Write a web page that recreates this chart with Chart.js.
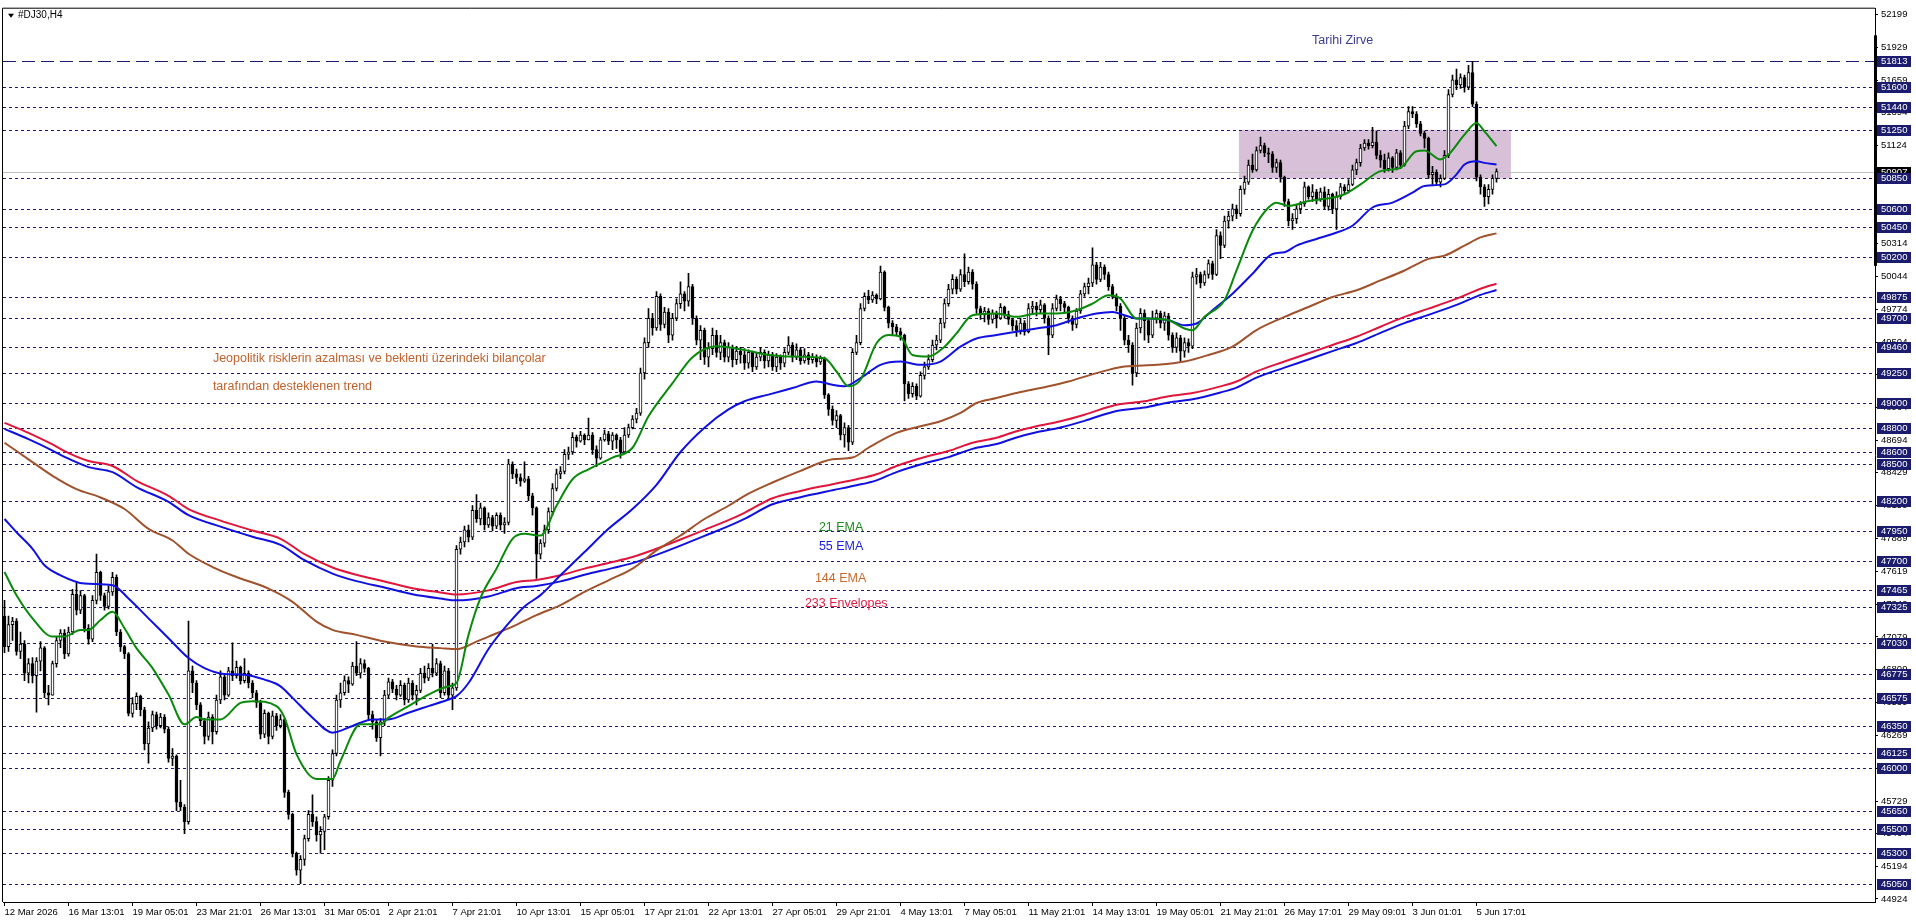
<!DOCTYPE html>
<html>
<head>
<meta charset="utf-8">
<title>#DJ30,H4</title>
<script src="https://cdn.jsdelivr.net/npm/chart.js@4.4.1/dist/chart.umd.min.js"></script>
<style>
  html, body { margin: 0; padding: 0; background: #fff; overflow: hidden; }
  canvas { display: block; }
</style>
</head>
<body>
<canvas id="chart-0" width="1916" height="923"></canvas>
<script>
// #DJ30 H4 candles (one bar per index, 12 Mar .. 5 Jun)
var firstOpen = 47250;
var closes = [
  47000,47180,47210,46960,47020,46780,46860,46760,46880,46990,
  46620,46600,46860,47050,47110,46940,47120,47430,47300,47420,
  47150,47060,47380,47610,47420,47330,47450,47570,47120,47000,
  46940,46450,46530,46590,46480,46200,46330,46440,46350,46420,
  46320,46080,46100,45720,45680,45560,46800,46700,46520,46390,
  46260,46420,46300,46560,46750,46600,46800,46760,46830,46720,
  46780,46700,46620,46540,46280,46450,46260,46430,46350,46400,
  45800,45620,45300,45160,45250,45420,45620,45560,45450,45480,
  45600,45900,46120,46560,46620,46720,46690,46840,46780,46860,
  46820,46440,46380,46250,46380,46600,46710,46650,46600,46680,
  46560,46700,46600,46640,46780,46740,46820,46780,46860,46620,
  46800,46600,46660,47800,47860,47960,47900,48120,48050,48140,
  48000,48060,47990,48080,48000,48020,48500,48420,48390,48360,
  48380,48240,48140,47760,47850,47960,48110,48300,48420,48440,
  48580,48600,48720,48690,48740,48700,48740,48620,48550,48700,
  48750,48690,48740,48700,48600,48740,48800,48870,48920,49250,
  49500,49700,49620,49880,49650,49750,49560,49700,49820,49900,
  49840,49960,49700,49520,49600,49380,49450,49560,49420,49500,
  49380,49460,49360,49430,49400,49330,49420,49300,49380,49420,
  49350,49400,49300,49380,49330,49420,49480,49380,49440,49350,
  49400,49360,49380,49340,49370,49070,48950,48860,48900,48740,
  48800,48680,49420,49500,49780,49880,49850,49890,49860,50080,
  49790,49660,49630,49590,49560,49160,49080,49140,49060,49230,
  49300,49360,49480,49520,49660,49820,49940,50020,49940,50060,
  50000,50080,49980,49780,49730,49760,49690,49740,49700,49790,
  49730,49690,49640,49600,49660,49590,49780,49800,49770,49810,
  49700,49560,49780,49860,49820,49790,49700,49650,49760,49900,
  49960,49990,50140,50020,50120,50060,49960,49880,49800,49700,
  49520,49480,49250,49620,49740,49680,49560,49700,49740,49660,
  49720,49560,49460,49540,49430,49500,49470,50040,50060,49990,
  50060,50150,50060,50380,50300,50500,50540,50600,50560,50760,
  50820,50960,50920,51080,51120,51060,51050,50940,50980,50860,
  50660,50500,50520,50600,50640,50780,50700,50740,50680,50740,
  50620,50720,50600,50700,50780,50750,50800,50920,50980,51100,
  51140,51120,51150,51040,51000,50930,51020,50940,51060,50960,
  51280,51400,51380,51300,51220,51180,50880,50900,50820,50850,
  51040,51540,51660,51620,51680,51600,51720,51460,50860,50780,
  50700,50760,50850,50907
];
var highs = [
  47380,47250,47240,47230,47120,47050,46900,46910,46910,47040,
  47000,46680,46880,47080,47140,47140,47160,47470,47530,47460,
  47430,47180,47420,47760,47620,47440,47500,47610,47590,47140,
  47010,46950,46580,46620,46600,46500,46380,46470,46460,46450,
  46440,46340,46160,46110,45900,45700,47210,46840,46720,46540,
  46410,46460,46440,46600,46800,46770,46830,47030,46880,46840,
  46900,46800,46720,46640,46560,46480,46460,46470,46450,46440,
  46410,45820,45630,45310,45280,45450,45650,45780,45600,45520,
  45620,45930,46150,46600,46700,46760,46750,46870,47040,46900,
  46890,46830,46470,46400,46410,46640,46740,46730,46680,46720,
  46700,46740,46720,46680,46820,46840,46860,47020,46900,46880,
  46840,46820,46700,47830,47900,47990,48000,48160,48250,48180,
  48150,48100,48080,48100,48100,48060,48540,48520,48460,48420,
  48520,48400,48260,48150,47880,48000,48140,48340,48460,48480,
  48620,48640,48760,48740,48770,48750,48880,48760,48650,48720,
  48780,48770,48760,48750,48720,48800,48830,48900,48960,49290,
  49540,49780,49740,49920,49900,49790,49780,49740,49860,50000,
  49920,50070,49980,49720,49640,49620,49500,49620,49600,49560,
  49520,49500,49480,49470,49460,49450,49440,49430,49420,49460,
  49440,49430,49420,49410,49400,49450,49550,49500,49490,49460,
  49450,49420,49410,49400,49390,49380,49080,48980,48940,48910,
  48840,48820,49450,49560,49820,49910,49930,49920,49900,50130,
  50090,49800,49680,49650,49620,49570,49180,49170,49160,49260,
  49340,49400,49520,49560,49700,49860,49980,50060,50040,50100,
  50230,50120,50100,50000,49800,49790,49780,49770,49760,49820,
  49800,49760,49700,49680,49700,49680,49820,49840,49830,49850,
  49820,49720,49820,49890,49880,49840,49800,49720,49780,49930,
  49990,50030,50280,50160,50160,50140,50080,49980,49900,49820,
  49720,49560,49500,49660,49780,49770,49700,49760,49770,49760,
  49750,49740,49580,49580,49560,49540,49530,50080,50110,50080,
  50090,50180,50170,50430,50410,50540,50580,50640,50630,50790,
  50870,51000,51050,51110,51190,51140,51100,51070,51010,51000,
  50870,50680,50560,50640,50660,50820,50790,50800,50760,50770,
  50780,50760,50730,50740,50810,50800,50840,50960,51010,51130,
  51170,51170,51270,51240,51080,51050,51060,51030,51090,51080,
  51320,51440,51440,51400,51320,51240,51190,50950,50920,50880,
  51080,51580,51700,51750,51710,51700,51780,51813,51480,50880,
  50800,50800,50880,50930
];
var lows = [
  46950,46960,47050,46930,46900,46720,46700,46700,46460,46800,
  46580,46520,46600,46830,46990,46900,46920,47100,47260,47270,
  47120,47020,47040,47350,47380,47300,47310,47420,47090,46960,
  46900,46430,46420,46480,46430,46150,46040,46300,46320,46330,
  46290,46050,46020,45650,45650,45460,45540,46620,46480,46350,
  46200,46230,46200,46280,46530,46560,46590,46720,46740,46690,
  46700,46660,46580,46500,46240,46250,46200,46240,46310,46330,
  45760,45580,45270,45120,45050,45200,45400,45520,45400,45300,
  45330,45580,45850,46100,46500,46600,46620,46680,46760,46740,
  46790,46400,46320,46220,46100,46350,46580,46620,46560,46590,
  46520,46540,46560,46520,46620,46700,46720,46750,46760,46580,
  46600,46560,46480,46640,47760,47820,47860,47880,48020,48000,
  47960,47980,47950,47970,47960,47930,48000,48380,48340,48320,
  48350,48200,48080,47560,47720,47820,47930,48080,48280,48380,
  48420,48540,48580,48640,48680,48660,48700,48580,48480,48540,
  48690,48660,48620,48630,48550,48590,48720,48790,48840,48900,
  49200,49460,49560,49600,49600,49620,49500,49520,49680,49780,
  49760,49800,49650,49480,49360,49320,49300,49400,49380,49360,
  49340,49340,49300,49320,49330,49280,49290,49260,49280,49350,
  49290,49300,49270,49260,49280,49300,49400,49340,49360,49320,
  49330,49320,49330,49300,49320,49040,48900,48820,48800,48700,
  48640,48610,48660,49400,49480,49760,49820,49830,49820,49850,
  49760,49620,49560,49560,49520,49020,49040,49050,49030,49050,
  49200,49280,49340,49440,49500,49620,49800,49900,49900,49920,
  49960,49980,49940,49740,49690,49670,49650,49660,49620,49690,
  49700,49650,49600,49550,49570,49560,49580,49740,49720,49740,
  49660,49400,49540,49760,49760,49740,49660,49600,49620,49740,
  49880,49900,49960,49980,50000,50020,49930,49860,49760,49600,
  49480,49420,49150,49220,49580,49520,49500,49540,49660,49620,
  49600,49520,49420,49420,49350,49380,49420,49450,49980,49950,
  49970,50030,50020,50050,50190,50280,50440,50500,50520,50540,
  50720,50800,50900,50910,51060,51030,50980,50900,50900,50820,
  50620,50460,50430,50480,50560,50620,50680,50660,50640,50660,
  50600,50590,50560,50430,50680,50720,50730,50790,50880,50950,
  51080,51090,51100,51010,50940,50900,50910,50900,50920,50930,
  50950,51260,51350,51270,51200,51100,50850,50800,50790,50780,
  50840,51020,51520,51580,51590,51560,51580,51440,50830,50720,
  50620,50640,50720,50820
];
// each H4 bar opens where the previous one closed
var opens = closes.map(function(c, i) { return i === 0 ? firstOpen : closes[i - 1]; });

// indicator lines, [bar, price] readings
var ema21 = [[0,47613],[3,47422],[7,47232],[12,47082],[15,47082],[19,47137],[21,47137],[24,47218],[27,47286],[30,47150],[33,46987],[37,46823],[41,46605],[45,46360],[48,46420],[50,46401],[54,46401],[59,46537],[62,46551],[68,46510],[70,46415],[73,46115],[78,45911],[82,45911],[84,46060],[89,46360],[94,46360],[96,46415],[101,46510],[106,46605],[111,46673],[113,46700],[116,47096],[119,47400],[123,47641],[127,47886],[130,47927],[134,47913],[138,48158],[142,48376],[146,48458],[152,48554],[157,48635],[161,48894],[167,49166],[172,49380],[178,49470],[185,49439],[191,49398],[197,49385],[205,49371],[208,49262],[211,49140],[214,49194],[218,49494],[221,49562],[224,49548],[227,49398],[231,49385],[235,49466],[238,49575],[242,49725],[248,49739],[253,49712],[258,49739],[263,49739],[268,49766],[272,49820],[276,49889],[279,49861],[283,49698],[286,49698],[291,49684],[295,49616],[297,49602],[300,49712],[305,49848],[308,50093],[312,50420],[316,50611],[318,50651],[321,50624],[326,50665],[332,50692],[335,50720],[339,50801],[344,50910],[349,50938],[353,51074],[355,51079],[359,51006],[361,51046],[365,51210],[368,51305],[370,51237],[373,51115]];
var ema55 = [[0,48049],[3,47940],[7,47804],[10,47668],[14,47586],[20,47518],[27,47505],[31,47395],[36,47232],[41,47068],[46,46905],[50,46823],[55,46774],[60,46769],[65,46728],[69,46673],[72,46578],[77,46415],[82,46292],[87,46347],[92,46401],[96,46401],[101,46456],[106,46510],[111,46564],[113,46592],[116,46700],[121,46980],[126,47190],[130,47330],[134,47423],[139,47586],[145,47777],[151,47968],[157,48131],[163,48330],[169,48600],[175,48800],[181,48950],[185,49017],[191,49072],[197,49126],[203,49180],[207,49153],[210,49140],[214,49208],[219,49317],[224,49344],[229,49317],[234,49344],[239,49466],[243,49534],[248,49562],[253,49589],[258,49616],[263,49643],[268,49698],[273,49739],[277,49752],[280,49725],[283,49698],[286,49698],[291,49684],[295,49643],[298,49657],[302,49766],[307,49902],[312,50066],[317,50229],[320,50243],[323,50297],[328,50352],[332,50393],[337,50461],[342,50611],[347,50651],[352,50733],[355,50788],[360,50801],[363,50883],[365,50965],[368,50992],[370,50978],[373,50965]];
var ema144 = [[0,48676],[6,48540],[12,48404],[18,48295],[24,48226],[30,48131],[36,47968],[42,47872],[46,47763],[52,47654],[58,47572],[66,47477],[72,47368],[78,47205],[82,47137],[88,47096],[95,47041],[103,47000],[109,46987],[113,46979],[118,47041],[122,47095],[127,47164],[133,47259],[139,47341],[145,47450],[151,47545],[157,47641],[163,47791],[169,47913],[175,48049],[181,48158],[185,48240],[192,48349],[199,48445],[207,48540],[212,48554],[216,48635],[223,48757],[229,48812],[234,48853],[239,48921],[243,49003],[248,49044],[253,49085],[261,49140],[266,49180],[273,49249],[280,49303],[288,49317],[295,49344],[301,49398],[307,49466],[313,49603],[320,49711],[326,49793],[332,49875],[338,49930],[344,50011],[350,50093],[356,50188],[360,50215],[365,50297],[369,50365],[373,50398]];
var envUpper = [[0,48840],[6,48758],[12,48662],[15,48608],[21,48526],[27,48485],[33,48363],[41,48240],[46,48131],[54,48036],[62,47954],[69,47886],[75,47760],[82,47650],[88,47590],[95,47535],[102,47480],[109,47445],[113,47428],[121,47462],[128,47530],[133,47548],[139,47586],[145,47641],[152,47695],[157,47736],[163,47804],[169,47880],[175,47960],[181,48040],[185,48100],[192,48220],[199,48280],[207,48335],[213,48376],[218,48417],[223,48485],[231,48567],[236,48608],[242,48676],[248,48717],[253,48771],[258,48812],[264,48853],[270,48907],[278,48989],[285,49017],[291,49058],[297,49085],[304,49140],[308,49180],[313,49262],[320,49344],[326,49412],[332,49480],[338,49548],[344,49630],[350,49711],[356,49779],[363,49861],[369,49943],[373,49984]];
var envLower = [[0,48790],[6,48706],[12,48612],[15,48560],[21,48476],[27,48434],[33,48312],[41,48190],[46,48080],[54,47986],[62,47903],[69,47836],[75,47710],[82,47600],[88,47538],[95,47485],[102,47430],[109,47395],[113,47380],[121,47412],[128,47480],[133,47498],[139,47536],[145,47590],[152,47645],[157,47686],[163,47754],[169,47830],[175,47910],[181,47990],[185,48050],[192,48170],[199,48228],[207,48285],[213,48326],[218,48367],[223,48435],[231,48516],[236,48558],[242,48626],[248,48666],[253,48720],[258,48762],[264,48802],[270,48856],[278,48938],[285,48966],[291,49008],[297,49034],[304,49090],[308,49130],[313,49212],[320,49294],[326,49361],[332,49430],[338,49497],[344,49580],[350,49660],[356,49728],[363,49810],[369,49892],[373,49932]];

// axis labels
var timeLabels = ['12 Mar 2026','16 Mar 13:01','19 Mar 05:01','23 Mar 21:01','26 Mar 13:01','31 Mar 05:01','2 Apr 21:01','7 Apr 21:01','10 Apr 13:01','15 Apr 05:01','17 Apr 21:01','22 Apr 13:01','27 Apr 05:01','29 Apr 21:01','4 May 13:01','7 May 05:01','11 May 21:01','14 May 13:01','19 May 05:01','21 May 21:01','26 May 17:01','29 May 09:01','3 Jun 01:01','5 Jun 17:01'];
var barsPerLabel = 16;
var priceTicks = [52199,51929,51659,51394,51124,50854,50584,50314,50044,49774,49504,49234,48964,48694,48429,48159,47889,47619,47349,47079,46809,46539,46269,45999,45729,45464,45194,44924];
// horizontal levels drawn on the chart (first one = historic high)
var levels = [51813,51600,51440,51250,50850,50600,50450,50200,49875,49700,49460,49250,49000,48800,48600,48500,48200,47950,47700,47465,47325,47030,46775,46575,46350,46125,46000,45650,45500,45300,45050];
var lastPrice = 50907;
var zoneBars = [308.6, 376.6];
var zonePrices = [51250, 50850];
var scaleMarker = [52027, 50131];

// text objects: [text, bar, price, colour]
var notes = [
  ['Tarihi Zirve', 326.9, 51985, '#3c3c96'],
  ['Jeopolitik risklerin azalması ve beklenti üzerindeki bilançolar', 52.1, 49371, '#c0622c'],
  ['tarafından desteklenen trend', 52.1, 49142, '#c0622c'],
  ['21 EMA', 203.6, 47981, '#1f8a1f'],
  ['55 EMA', 203.6, 47826, '#1c1ce0'],
  ['144 EMA', 202.6, 47556, '#c8692a'],
  ['233 Envelopes', 200.1, 47352, '#e0204a']
];

var levelColor = '#1c1c6e';

document.addEventListener('DOMContentLoaded', function() {
  Chart.defaults.font.family = "'Liberation Sans', Arial, sans-serif";
  Chart.defaults.color = '#000';

  function pts(arr) { return arr.map(function(p) { return { x: p[0], y: p[1] }; }); }

  var bodies = closes.map(function(c, i) { return { x: i, y: [opens[i], c] }; });
  var wicks = closes.map(function(c, i) { return { x: i, y: [lows[i], highs[i]] }; });
  var bodyFill = closes.map(function(c, i) { return c >= opens[i] ? '#ffffff' : '#000000'; });

  function lineSet(data, color) {
    return { type: 'line', data: pts(data), borderColor: color, borderWidth: 2, pointRadius: 0,
             fill: false, cubicInterpolationMode: 'monotone', order: 0 };
  }

  var mt4 = {
    id: 'mt4',
    beforeDatasetsDraw: function(chart) {
      var ctx = chart.ctx, a = chart.chartArea, x = chart.scales.x, y = chart.scales.y;
      ctx.save();
      ctx.beginPath();
      ctx.rect(a.left, a.top, a.right - a.left, a.bottom - a.top);
      ctx.clip();
      // support / resistance box
      var zx0 = x.getPixelForValue(zoneBars[0]), zx1 = x.getPixelForValue(zoneBars[1]);
      var zy0 = y.getPixelForValue(zonePrices[0]), zy1 = y.getPixelForValue(zonePrices[1]);
      ctx.fillStyle = '#d8c0d8';
      ctx.fillRect(zx0, zy0, zx1 - zx0, zy1 - zy0);
      // bid line
      var by = Math.round(y.getPixelForValue(lastPrice)) + 0.5;
      ctx.strokeStyle = '#c0c0c0';
      ctx.lineWidth = 1;
      ctx.beginPath(); ctx.moveTo(a.left, by); ctx.lineTo(a.right, by); ctx.stroke();
      // levels
      ctx.strokeStyle = levelColor;
      levels.forEach(function(v, i) {
        var py = Math.round(y.getPixelForValue(v)) + 0.5;
        ctx.setLineDash(i === 0 ? [13, 6] : [3, 3]);
        ctx.beginPath(); ctx.moveTo(a.left, py); ctx.lineTo(a.right, py); ctx.stroke();
      });
      ctx.restore();
    },
    afterDraw: function(chart) {
      var ctx = chart.ctx, a = chart.chartArea, x = chart.scales.x, y = chart.scales.y;
      ctx.save();
      // frame
      ctx.strokeStyle = '#000'; ctx.lineWidth = 1;
      ctx.beginPath();
      ctx.moveTo(a.left - 0.5, a.bottom); ctx.lineTo(a.left - 0.5, a.top - 0.5); ctx.lineTo(a.right, a.top - 0.5);
      ctx.stroke();
      // thick part of the price scale
      var my0 = y.getPixelForValue(scaleMarker[0]), my1 = y.getPixelForValue(scaleMarker[1]);
      ctx.fillStyle = '#000';
      ctx.fillRect(a.right - 1, my0, 3, my1 - my0);
      // title
      ctx.beginPath();
      ctx.moveTo(a.left + 5, a.top + 5); ctx.lineTo(a.left + 11, a.top + 5); ctx.lineTo(a.left + 8, a.top + 9);
      ctx.closePath(); ctx.fill();
      ctx.font = "10px 'Liberation Sans', Arial, sans-serif";
      ctx.textBaseline = 'middle'; ctx.textAlign = 'left';
      ctx.fillText('#DJ30,H4', a.left + 15, a.top + 7);
      // text objects
      ctx.font = "12.5px 'Liberation Sans', Arial, sans-serif";
      notes.forEach(function(n) {
        ctx.fillStyle = n[3];
        ctx.fillText(n[0], x.getPixelForValue(n[1]), y.getPixelForValue(n[2]));
      });
      // level labels on the price scale (bid label first, levels on top of it)
      ctx.font = "9.5px 'Liberation Sans', Arial, sans-serif";
      function tag(v, bg) {
        var py = Math.round(y.getPixelForValue(v));
        ctx.fillStyle = bg;
        ctx.fillRect(a.right + 2, py - 5, 34, 11);
        ctx.fillStyle = '#fff';
        ctx.fillText(String(v), a.right + 6, py + 0.5);
      }
      tag(lastPrice, '#000');
      levels.forEach(function(v) { tag(v, levelColor); });
      ctx.restore();
    }
  };

  new Chart(document.getElementById('chart-0'), {
    type: 'bar',
    data: {
      datasets: [
        lineSet(ema21, '#0a8a0a'),
        lineSet(ema55, '#1010e0'),
        lineSet(ema144, '#a0522d'),
        lineSet(envUpper, '#e0163c'),
        lineSet(envLower, '#1010e0'),
        { type: 'bar', data: bodies, backgroundColor: bodyFill, borderColor: '#000', borderWidth: 1,
          borderSkipped: false, barThickness: 3, grouped: false, minBarLength: 1, order: 1 },
        { type: 'bar', data: wicks, backgroundColor: '#000', borderWidth: 0,
          barThickness: 1, grouped: false, order: 2 }
      ]
    },
    options: {
      responsive: false,
      animation: false,
      events: [],
      layout: { padding: { left: 3, top: 3, right: 0, bottom: 0 } },
      plugins: { legend: { display: false }, tooltip: { enabled: false } },
      scales: {
        x: {
          type: 'linear', min: -0.375, max: 467.625, offset: false,
          afterFit: function(s) { s.height = 21; },
          afterBuildTicks: function(s) {
            s.ticks = timeLabels.map(function(t, i) { return { value: i * barsPerLabel }; });
          },
          grid: { drawOnChartArea: false, drawTicks: true, tickLength: 4, color: '#000', offset: false },
          border: { color: '#000' },
          ticks: {
            autoSkip: false, maxRotation: 0, minRotation: 0, align: 'start', padding: 1,
            font: { size: 9.5 }, color: '#000',
            callback: function(v) { return timeLabels[Math.round(v / barsPerLabel)]; }
          }
        },
        y: {
          position: 'right', min: 44899, max: 52246,
          afterFit: function(s) { s.width = 41; },
          afterBuildTicks: function(s) {
            s.ticks = priceTicks.map(function(v) { return { value: v }; });
          },
          grid: { drawOnChartArea: false, drawTicks: true, tickLength: 3, color: '#000' },
          border: { color: '#000' },
          ticks: {
            padding: 3, font: { size: 9.5 }, color: '#000',
            callback: function(v) { return String(v); }
          }
        }
      }
    },
    plugins: [mt4]
  });
});
</script>
</body>
</html>
